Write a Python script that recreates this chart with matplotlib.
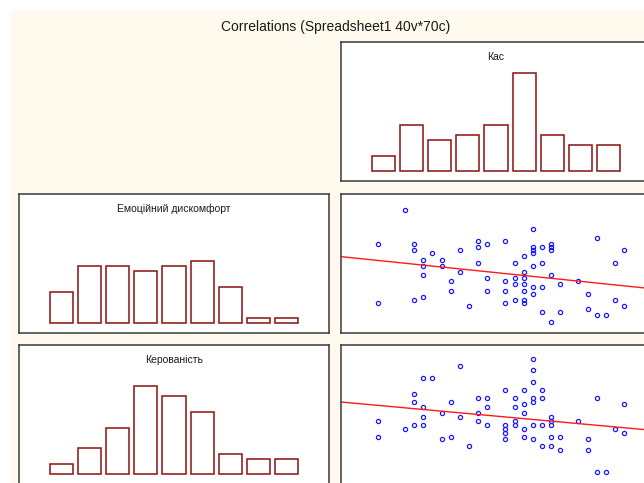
import matplotlib
matplotlib.use("Agg")
import matplotlib.pyplot as plt
import numpy as np
from matplotlib.patches import Rectangle

plt.rcParams['font.family'] = ['Liberation Sans', 'DejaVu Sans']

title = "Correlations (Spreadsheet1 40v*70c)"
var_names = ["Кас", "Емоційний дискомфорт", "Керованість"]

# histogram counts per bin (70 cases)
kas_counts = [3, 9, 6, 7, 9, 19, 7, 5, 5]
emo_counts = [6, 11, 11, 10, 11, 12, 7, 1, 1]
ker_counts = [2, 5, 9, 17, 15, 12, 4, 3, 3]

# Кас vs Емоційний дискомфорт
kas_a = [8, 22, 29, 5, 9, 16, 19, 16, 17, 23, 24, 24, 24, 22, 22, 22, 9, 11, 14, 32,
         21, 10, 12, 16, 20, 23, 31, 10, 12, 22, 14, 21, 10, 24, 20, 21, 17, 13, 19, 27,
         20, 21, 25, 22, 23, 13, 17, 19, 21, 22, 28, 10, 9, 20, 21, 31, 5, 19, 21, 15,
         32, 28, 23, 25, 29, 30, 24]
emo = [50, 44, 41, 39, 39, 40, 40, 38, 39, 38, 39, 38, 37, 38, 37, 36, 37, 36, 37, 37,
       35, 34, 34, 33, 33, 33, 33, 32, 32, 32, 30, 30, 29, 29, 28, 28, 28, 27, 27, 27,
       26, 26, 26, 25, 25, 24, 24, 24, 24, 23, 23, 22, 21, 21, 21, 21, 20, 20, 20, 19,
       19, 18, 17, 17, 16, 16, 14]

# Кас vs Керованість
kas_b = [22, 14, 22, 10, 11, 22, 19, 21, 23, 9, 16, 17, 20, 22, 23, 29, 9, 13, 22, 21,
         32, 10, 17, 20, 12, 16, 21, 10, 14, 24, 5, 16, 20, 24, 27, 9, 10, 17, 19, 20,
         22, 23, 24, 8, 19, 21, 31, 19, 32, 5, 13, 21, 24, 25, 12, 19, 22, 28, 15, 23,
         24, 25, 28, 29, 30]
ker = [40, 38, 37, 35, 35, 34, 32, 32, 32, 31, 30, 30, 30, 30, 30, 30, 29, 29, 29, 28.5,
       28.5, 27.5, 27.5, 27.5, 26, 26, 26, 25, 25, 25, 24, 24, 24, 24, 24, 23, 23, 23, 23, 23,
       23, 23, 23, 22, 22, 22, 22, 21, 21, 20, 20, 20, 20, 20, 19.5, 19.5, 19.5, 19.5, 17.5, 17.5,
       17.5, 16.5, 16.5, 11, 11]

W, H = 644, 483
fig = plt.figure(figsize=(W / 100, H / 100), dpi=100)
fig.patch.set_facecolor('white')
fig.add_artist(Rectangle((11 / W, 0), 1, (H - 10) / H, transform=fig.transFigure,
                         facecolor='#fff9ee', edgecolor='none', zorder=0))
fig.text(336 / W, 1 - 26.5 / H, title, ha='center', va='center', fontsize=10, color='#1a1a1a')


def panel(x, y):
    # x, y: top-left corner in pixels
    ax = fig.add_axes([x / W, 1 - (y + 139) / H, 310 / W, 139 / H])
    ax.set_facecolor('white')
    ax.set_xticks([])
    ax.set_yticks([])
    for s in ax.spines.values():
        s.set_color('#3a3a3a')
        s.set_linewidth(1.1)
    return ax


def hist_panel(ax, counts, name):
    idx = np.arange(len(counts))
    ax.bar(idx, counts, width=0.82, facecolor='white', edgecolor='#8b1010', linewidth=1.1)
    ax.set_xlim(-1.5, 9.5)
    ax.set_ylim(-1.83, 24.9)
    ax.text(0.5, 1 - 15 / 139, name, transform=ax.transAxes, ha='center', va='center',
            fontsize=7.5, color='#1a1a1a')


def scatter_panel(ax, xs, ys, xlim, ylim):
    ax.plot(xs, ys, 'o', ms=3.0, mfc='none', mec='#1a1aff', mew=0.9, ls='none')
    b, a = np.polyfit(xs, ys, 1)
    lx = np.array(xlim)
    ax.plot(lx, a + b * lx, color='#ff1a1a', lw=1.0)
    ax.set_xlim(*xlim)
    ax.set_ylim(*ylim)


hist_panel(panel(341, 42), kas_counts, var_names[0])
hist_panel(panel(19, 194), emo_counts, var_names[1])
hist_panel(panel(19, 345), ker_counts, var_names[2])

scatter_panel(panel(341, 194), kas_a, emo, (0.98, 34.96), (10.32, 55.16))
scatter_panel(panel(341, 345), kas_b, ker, (0.98, 34.96), (7.86, 43.5))

fig.savefig('out.png', dpi=100, facecolor=fig.get_facecolor())
